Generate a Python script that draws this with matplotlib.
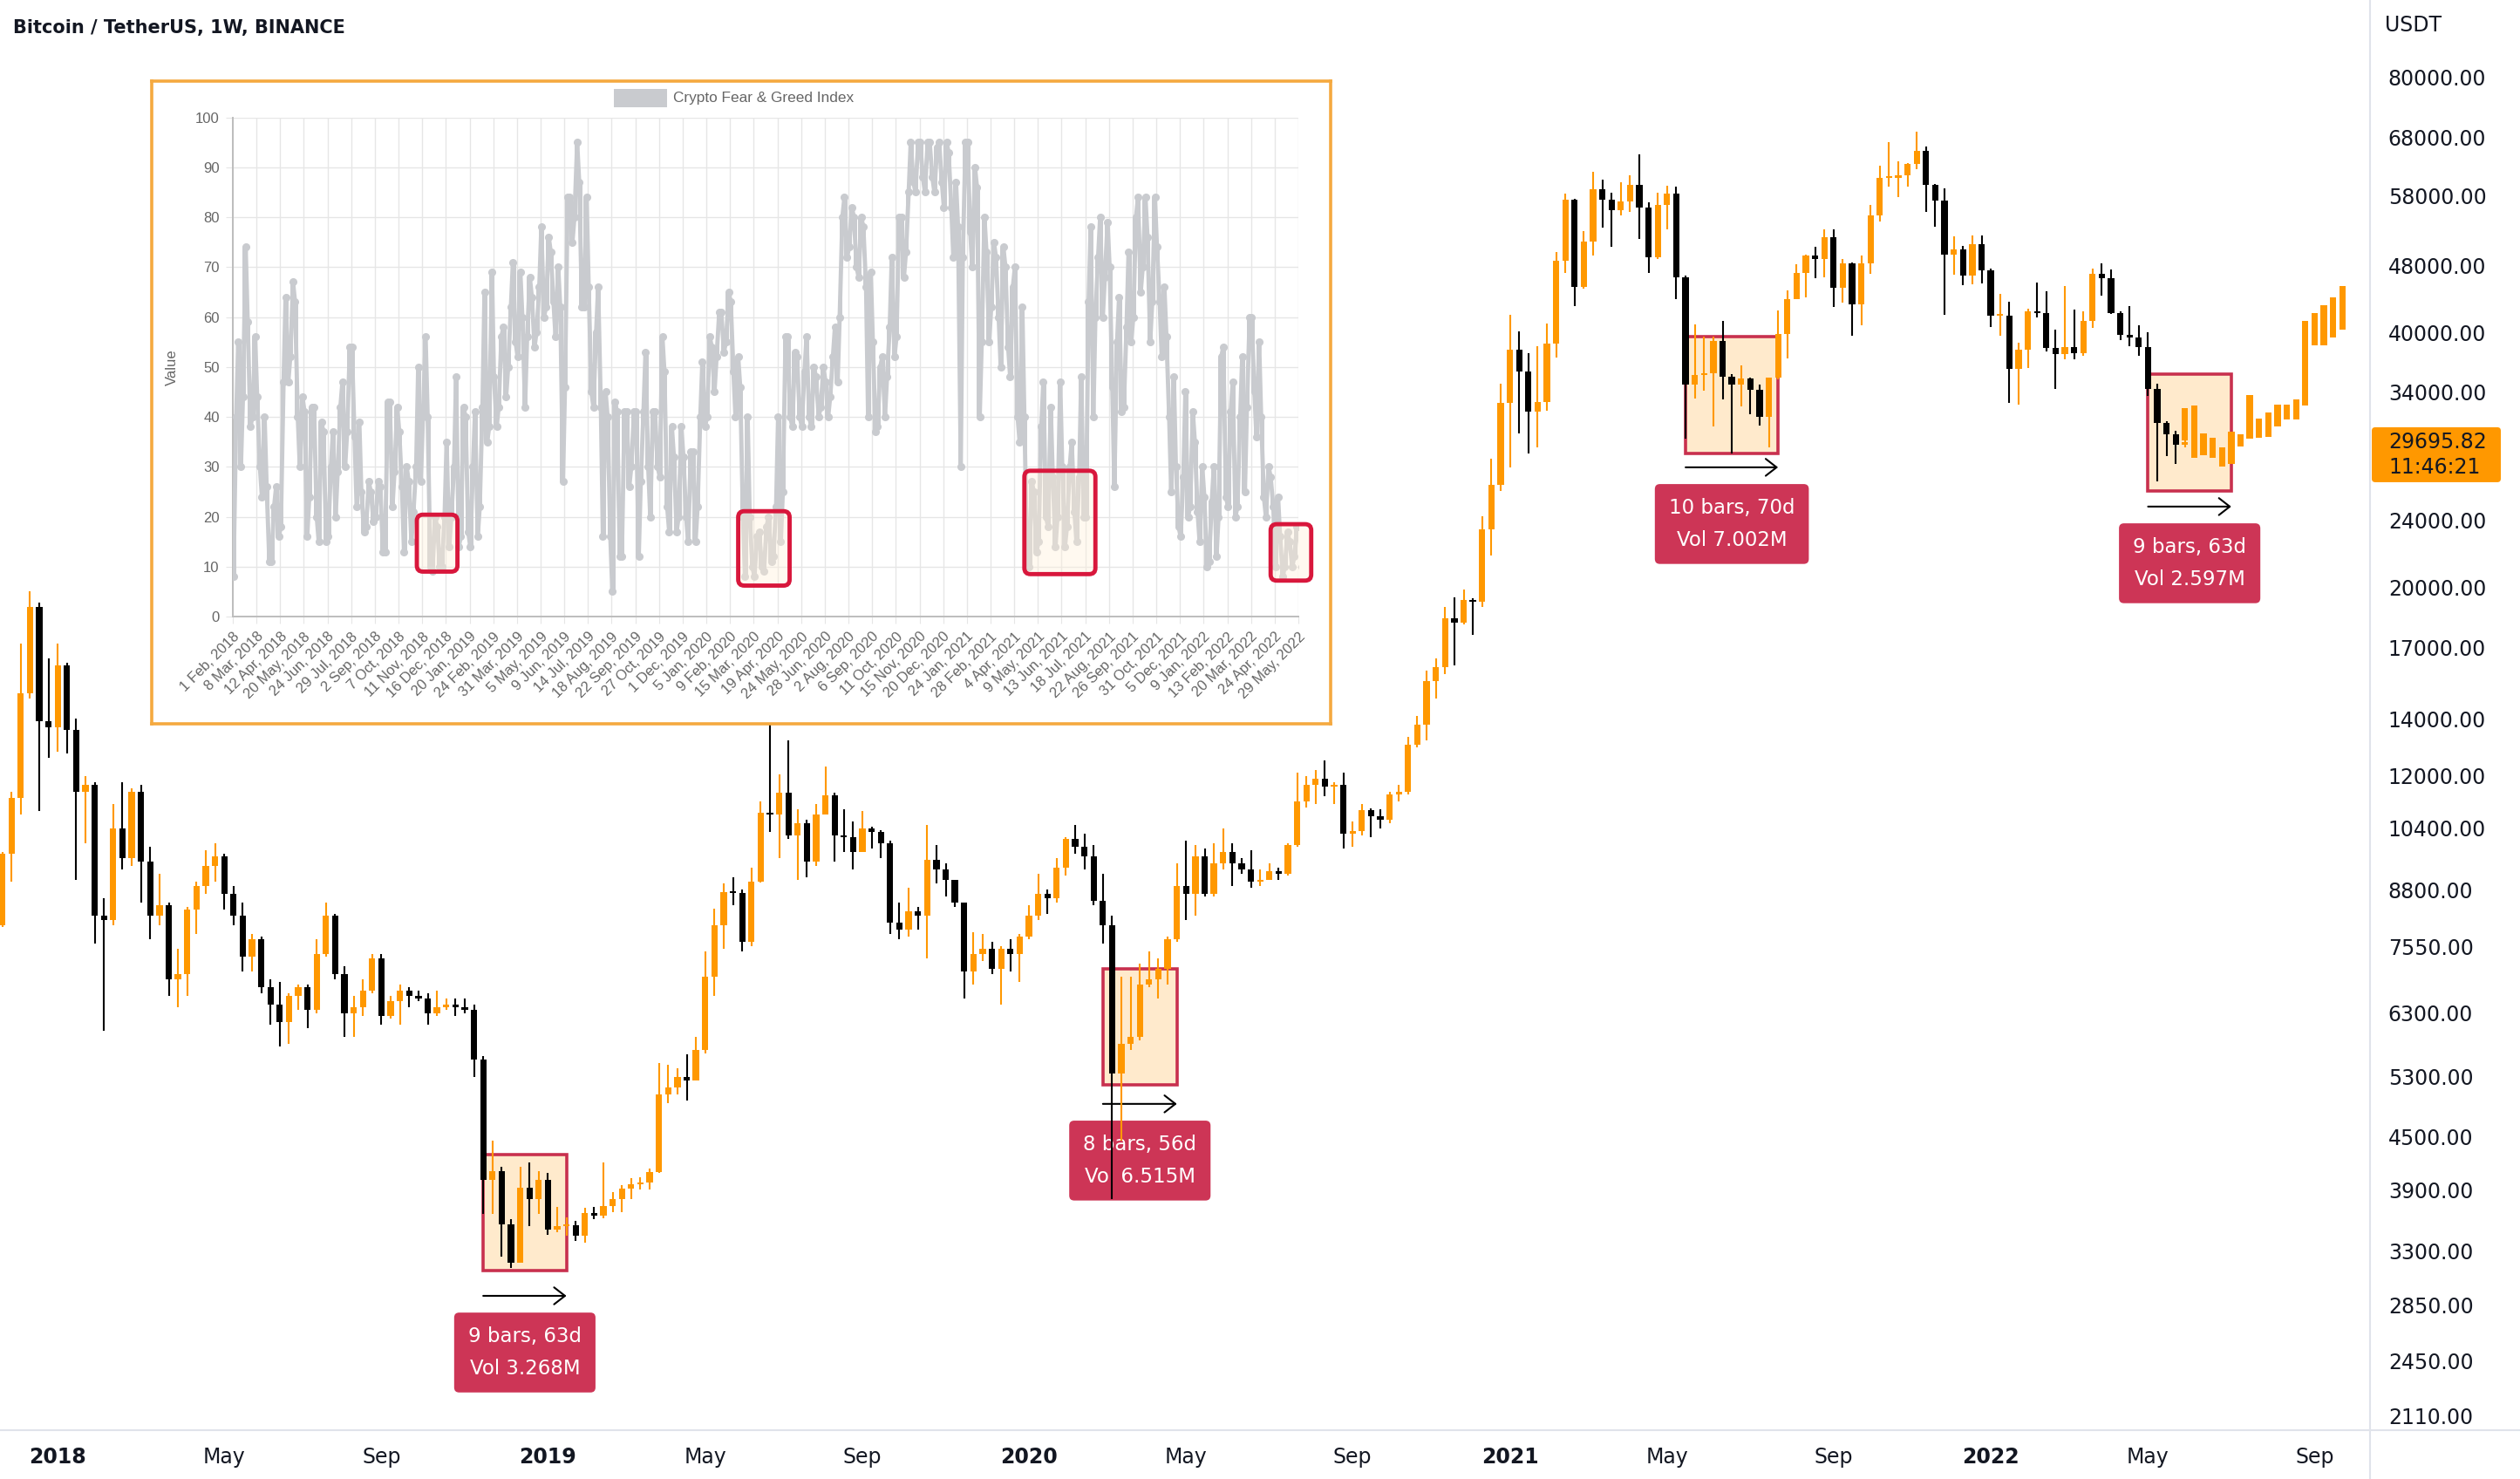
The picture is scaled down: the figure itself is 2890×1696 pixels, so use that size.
import matplotlib
matplotlib.use("Agg")
import matplotlib.pyplot as plt
import matplotlib.dates as mdates
import matplotlib.transforms as mtransforms
from matplotlib.patches import Rectangle, FancyBboxPatch
from matplotlib.lines import Line2D
from matplotlib.ticker import NullLocator
import numpy as np
import pandas as pd

W, H = 2890, 1696
DPI = 100

ORANGE = "#FF9800"
DOWN = "#000000"
TEXT = "#131722"
RANGE_RED = "#C8304E"
LABEL_RED = "#CD3556"
GREY = "#C9CBCF"

# ---- weekly BTCUSDT candles, Binance, weeks from 2017-11-20 (open = previous close)
first_open = 8000
week_high = [
    9750, 11500, 17200, 19800, 19200, 16500,                     # 2017 Nov-Dec
    17200, 16300, 14000, 12000, 11800,                           # 2018 Jan
    8600, 11100, 11800, 11600,                                   # Feb
    11700, 9900, 9200, 8500,                                     # Mar
    7500, 8400, 9000, 9800, 9990,                                # Apr
    9700, 8900, 8500, 7800,                                      # May
    7750, 6900, 6850, 6650,                                      # Jun
    6800, 6800, 7700, 8500, 8250,                                # Jul
    7150, 6600, 6900, 7400,                                      # Aug
    7400, 6600, 6800, 6750,                                      # Sep
    6700, 6650, 6700, 6550, 6550,                                # Oct
    6550, 6450, 5600, 4450,                                      # Nov
    4150, 3600, 4150, 4200, 4100,                                # Dec
    4080, 3720, 3620, 3580,                                      # 2019 Jan
    3710, 3720, 4200, 3870,                                      # Feb
    3950, 4020, 4030, 4130,                                      # Mar
    5500, 5470, 5420, 5630, 5900,                                # Apr
    7450, 8370, 8950, 9100,                                      # May
    8800, 9350, 11200, 13970,                                    # Jun
    12050, 13200, 10950, 10650, 11100,                           # Jul
    12300, 11450, 10950, 10600,                                  # Aug
    10900, 10450, 10350, 10050, 8500,                            # Sep
    8850, 8400, 10500, 9950,                                     # Oct
    9450, 9050, 8500, 7850,                                      # Nov
    7800, 7650, 7550, 7700, 7800,                                # Dec
    8450, 9200, 8800, 9600,                                      # 2020 Jan
    10150, 10500, 10250, 9950,                                   # Feb
    9200, 8200, 6950, 6950, 7200,                                # Mar
    7450, 7300, 7750, 9450,                                      # Apr
    10050, 9950, 9850, 10000,                                    # May
    10400, 10000, 9600, 9800, 9300,                              # Jun
    9450, 9350, 10000, 12100,                                    # Jul
    12000, 12200, 12500, 11800, 12100,                           # Aug
    10600, 11100, 10990, 10950,                                  # Sep
    11500, 11700, 13350, 14100,                                  # Oct
    15950, 16500, 19000, 19500, 19900,                           # Nov
    19450, 24300, 28400, 34800,                                  # Dec
    42000, 40100, 37850, 38500,                                  # 2021 Jan
    40950, 49700, 58350, 57500,                                  # Feb
    52650, 61800, 60600, 58400, 60200,                           # Mar
    61300, 64850, 57000, 58450,                                  # Apr
    59600, 59500, 46650, 40850, 39500,                           # May
    39500, 41300, 35750, 36600,                                  # Jun
    35400, 34700, 35400, 42450,                                  # Jul
    44800, 48150, 49400, 50500, 52900,                           # Aug
    52950, 48850, 48350, 49250,                                  # Sep
    56550, 62950, 67000, 63700,                                  # Oct
    63300, 69000, 66300, 59900, 59200,                           # Nov
    51950, 50600, 52100, 52100,                                  # Dec
    47550, 44450, 43500, 38900, 42650,                           # 2022 Jan
    45850, 44750, 40300, 45400,                                  # Feb
    42600, 42350, 47600, 48250,                                  # Mar
    47450, 42400, 42950, 40800,                                  # Apr
    40000, 34800, 31400, 30650, 29900,                           # May
]
week_low = [
    7950, 9000, 10800, 14800, 10900, 12600,
    12800, 12750, 9050, 10000, 7600,
    6000, 8000, 9300, 9400,
    8500, 7700, 8000, 6600,
    6400, 6600, 7800, 8700, 9000,
    8350, 8000, 7050, 7050,
    6650, 6100, 5750, 5800,
    6350, 6050, 6300, 7350, 6900,
    5900, 5900, 6250, 6650,
    6100, 6200, 6100, 6400,
    6500, 6100, 6250, 6350, 6250,
    6300, 5300, 3650, 3650,
    3250, 3150, 3200, 3530, 3650,
    3450, 3470, 3440, 3390,
    3380, 3600, 3610, 3670,
    3670, 3800, 3900, 3900,
    4080, 4930, 5050, 4970, 5250,
    5650, 6600, 7500, 8450,
    7450, 7550, 8980, 10300,
    9600, 10100, 9050, 9100, 9400,
    10800, 9500, 9750, 9300,
    9750, 9850, 9600, 7800, 7700,
    7750, 7900, 7300, 8950,
    8650, 8400, 6550, 6800,
    7250, 7000, 6450, 7050, 6850,
    7700, 8100, 8250, 8500,
    9150, 9700, 9300, 8450,
    7600, 3800, 4450, 5700, 5850,
    6750, 6550, 6800, 7650,
    8100, 8200, 8650, 8650,
    9300, 8900, 9200, 8850, 8900,
    9050, 9050, 9150, 9900,
    11000, 11100, 11350, 11100, 9850,
    9900, 10200, 10150, 10400,
    10550, 11200, 11400, 12950,
    13200, 14800, 15800, 16200, 18100,
    17600, 19000, 21800, 26000,
    27700, 30400, 28800, 29250,
    32300, 37400, 47000, 43000,
    45000, 49300, 53200, 50500, 55000,
    55500, 51500, 47000, 48800,
    52900, 43800, 30000, 33400, 34150,
    31000, 33350, 28800, 32700,
    32050, 31050, 29300, 35200,
    37300, 43800, 43950, 46350, 46500,
    42850, 43400, 39600, 40750,
    46950, 54100, 59500, 57800,
    59400, 62300, 55550, 53250, 42000,
    46800, 45450, 45550, 45650,
    40550, 39650, 33000, 32900, 36300,
    41700, 38000, 34300, 37150,
    37150, 37550, 40450, 44200,
    42100, 39200, 38550, 37550,
    33700, 26700, 28600, 28000, 29300,
]
week_close = [
    9700, 11300, 15000, 19000, 13900, 13700,
    16200, 13600, 11500, 11700, 8200,
    8100, 10400, 9600, 11500,
    9500, 8200, 8450, 6900,
    7000, 8350, 8900, 9400, 9650,
    8700, 8200, 7350, 7700,
    6750, 6450, 6150, 6600,
    6750, 6350, 7400, 8200, 7000,
    6300, 6400, 6700, 7300,
    6250, 6500, 6700, 6600,
    6550, 6300, 6400, 6450, 6400,
    6350, 5550, 4000, 4100,
    3550, 3200, 3920, 3800, 4000,
    3500, 3530, 3540, 3440,
    3660, 3630, 3730, 3800,
    3910, 3960, 3980, 4090,
    5050, 5150, 5300, 5250, 5700,
    6950, 8000, 8750, 8730,
    7650, 8990, 10850, 10800,
    11450, 10200, 10550, 9500, 10800,
    11380, 10200, 10150, 9750,
    10400, 10300, 10000, 8050, 7900,
    8300, 8200, 9550, 9300,
    9050, 8500, 7050, 7400,
    7500, 7100, 7500, 7400, 7750,
    8200, 8700, 8600, 9350,
    10100, 9900, 9650, 8550,
    8000, 5350, 5800, 5900, 6800,
    6900, 7100, 7700, 8900,
    8700, 9650, 8700, 9450,
    9750, 9450, 9300, 9000, 9050,
    9250, 9200, 9950, 11200,
    11700, 11900, 11650, 11700, 10250,
    10330, 10930, 10750, 10650,
    11400, 11500, 13050, 13800,
    15500, 16100, 18400, 18200, 19350,
    19250, 23450, 26450, 33000,
    38150, 36000, 32250, 33100,
    38800, 48550, 57400, 45250,
    51200, 59000, 57350, 55800, 57050,
    59750, 56200, 49000, 56600,
    58250, 46450, 34750, 35650, 35800,
    39100, 35500, 34700, 35300,
    34250, 31800, 35400, 39850,
    43800, 47050, 49250, 48800, 51750,
    45150, 48300, 43150, 48200,
    54950, 60850, 60850, 61300,
    63250, 65500, 59700, 57250, 49400,
    50100, 46700, 50800, 47300,
    41850, 41900, 36250, 38150, 42400,
    42200, 38350, 37700, 38400,
    37800, 41250, 46850, 46400,
    42150, 39700, 39450, 38450,
    34300, 31300, 30300, 29450, 29695.82,
]

# projected bars (bars pattern) from 2022-05-30
proj_low = [29830, 28460, 28660, 28460, 27790, 27990, 29340, 29980, 30050,
            30130, 30990, 31580, 31580, 32800, 38640, 38640, 39470, 40300]
proj_high = [32570, 32800, 30400, 30050, 29270, 30550, 30330, 33730, 31650,
             32180, 32880, 32880, 33340, 41270, 42170, 43060, 43990, 45360]

# date range measurements
range_start = ["2018-11-19", "2020-03-02", "2021-05-17", "2022-05-02"]
range_end = ["2019-01-21", "2020-04-27", "2021-07-26", "2022-07-04"]
range_top = [4290, 7100, 39540, 35720]
range_bottom = [3130, 5185, 28800, 26010]
range_text = ["9 bars, 63d\nVol 3.268M", "8 bars, 56d\nVol 6.515M",
              "10 bars, 70d\nVol 7.002M", "9 bars, 63d\nVol 2.597M"]
arrow_gap = [29, 22, 16, 18]

price_ticks = [80000, 68000, 58000, 48000, 40000, 34000, 24000, 20000, 17000,
               14000, 12000, 10400, 8800, 7550, 6300, 5300, 4500, 3900, 3300,
               2850, 2450, 2110]
time_ticks = ["2018-01-01", "2018-05-07", "2018-09-03", "2019-01-07", "2019-05-06",
              "2019-09-02", "2020-01-06", "2020-05-04", "2020-09-07", "2021-01-04",
              "2021-05-03", "2021-09-06", "2022-01-03", "2022-05-02", "2022-09-05"]
time_labels = ["2018", "May", "Sep", "2019", "May", "Sep", "2020", "May", "Sep",
               "2021", "May", "Sep", "2022", "May", "Sep"]

# ---- Crypto Fear & Greed Index (weekly low / high), from 1 Feb 2018
fg_low = [
    8, 30, 44, 38, 40, 30, 24, 11, 11, 16,
    18, 47, 52, 40, 30, 16, 24, 20, 15, 15,
    16, 20, 29, 30, 37, 36, 22, 17, 18, 19,
    20, 13, 13, 22, 29, 26, 13, 15, 21, 27,
    40, 10, 9, 10, 10, 14, 20, 14, 16, 17,
    14, 16, 22, 35, 38, 38, 42, 44, 50, 55,
    52, 42, 56, 54, 57, 60, 62, 63, 56, 27,
    46, 75, 80, 62, 62, 45, 42, 42, 16, 16,
    5, 12, 12, 26, 30, 12, 27, 30, 20, 30,
    28, 22, 17, 17, 20, 20, 15, 15, 22, 38,
    40, 45, 52, 53, 55, 49, 40, 20, 8, 10,
    8, 10, 9, 11, 12, 15, 25, 40, 38, 40,
    38, 40, 38, 40, 42, 40, 44, 47, 60, 72,
    74, 70, 68, 66, 40, 37, 38, 40, 48, 52,
    56, 68, 73, 87, 85, 88, 85, 88, 85, 87,
    82, 82, 72, 30, 72, 77, 70, 40, 55, 55,
    62, 60, 50, 54, 48, 40, 35, 11, 10, 13,
    15, 20, 18, 14, 20, 14, 18, 21, 15, 20,
    20, 40, 60, 60, 68, 46, 26, 41, 42, 55,
    60, 65, 70, 55, 63, 63, 52, 40, 25, 18,
    16, 20, 22, 21, 15, 10, 11, 12, 20, 24,
    22, 20, 22, 25, 42, 45, 36, 24, 20, 22,
    10, 8, 10, 10, 12, 10,
]
fg_high = [
    40, 55, 74, 59, 56, 44, 40, 26, 22, 26,
    47, 64, 67, 63, 44, 41, 42, 42, 39, 37,
    30, 37, 42, 47, 54, 54, 39, 25, 27, 25,
    27, 26, 43, 43, 42, 37, 30, 27, 30, 50,
    56, 40, 20, 18, 20, 35, 30, 48, 42, 40,
    30, 41, 42, 65, 69, 48, 56, 58, 62, 71,
    69, 60, 68, 64, 66, 78, 76, 73, 70, 62,
    84, 84, 95, 87, 84, 66, 57, 66, 45, 40,
    43, 41, 41, 41, 41, 41, 41, 53, 41, 41,
    56, 49, 38, 32, 38, 32, 33, 33, 40, 51,
    56, 54, 61, 61, 65, 63, 52, 46, 40, 20,
    16, 17, 18, 20, 22, 40, 56, 56, 53, 52,
    49, 56, 50, 48, 50, 47, 52, 58, 80, 84,
    82, 80, 80, 78, 69, 55, 50, 52, 58, 72,
    80, 80, 85, 95, 95, 95, 95, 95, 94, 95,
    95, 93, 87, 78, 95, 95, 90, 86, 80, 73,
    75, 72, 74, 70, 66, 70, 62, 40, 27, 25,
    38, 47, 42, 28, 47, 30, 30, 35, 28, 48,
    63, 78, 72, 80, 79, 70, 55, 64, 58, 73,
    80, 84, 84, 76, 84, 74, 66, 56, 48, 30,
    28, 45, 41, 35, 30, 24, 23, 30, 52, 54,
    41, 47, 40, 52, 60, 60, 55, 40, 30, 28,
    24, 16, 17, 15, 18, 18,
]
fg_labels = ["1 Feb, 2018", "8 Mar, 2018", "12 Apr, 2018", "20 May, 2018",
             "24 Jun, 2018", "29 Jul, 2018", "2 Sep, 2018", "7 Oct, 2018",
             "11 Nov, 2018", "16 Dec, 2018", "20 Jan, 2019", "24 Feb, 2019",
             "31 Mar, 2019", "5 May, 2019", "9 Jun, 2019", "14 Jul, 2019",
             "18 Aug, 2019", "22 Sep, 2019", "27 Oct, 2019", "1 Dec, 2019",
             "5 Jan, 2020", "9 Feb, 2020", "15 Mar, 2020", "19 Apr, 2020",
             "24 May, 2020", "28 Jun, 2020", "2 Aug, 2020", "6 Sep, 2020",
             "11 Oct, 2020", "15 Nov, 2020", "20 Dec, 2020", "24 Jan, 2021",
             "28 Feb, 2021", "4 Apr, 2021", "9 May, 2021", "13 Jun, 2021",
             "18 Jul, 2021", "22 Aug, 2021", "26 Sep, 2021", "31 Oct, 2021",
             "5 Dec, 2021", "9 Jan, 2022", "13 Feb, 2022", "20 Mar, 2022",
             "24 Apr, 2022", "29 May, 2022"]
# highlighted zones in the index chart (index days, value)
fg_box_x0 = [272, 747, 1170, 1534]
fg_box_x1 = [332, 823, 1275, 1594]
fg_box_lo = [9.0, 6.2, 8.5, 7.2]
fg_box_hi = [20.4, 21.1, 29.2, 18.5]


def fx(px):
    return px / W


def fy(py):
    return 1 - py / H


plt.rcParams["font.family"] = "DejaVu Sans"
fig = plt.figure(figsize=(W / DPI, H / DPI), dpi=DPI)
fig.patch.set_facecolor("white")

# ---------------- main candlestick chart
ax = fig.add_axes([0, fy(1640), fx(2718), 1640 / H])
ax.set_yscale("log")

weeks = pd.date_range("2017-11-20", periods=len(week_close), freq="7D")
x = mdates.date2num(weeks)
c = np.array(week_close, dtype=float)
o = np.concatenate([[first_open], c[:-1]])
hi = np.array(week_high, dtype=float)
lo = np.array(week_low, dtype=float)
cols = np.where(c >= o, ORANGE, DOWN)
body = np.maximum(np.abs(c - o), c * 0.004)
ax.vlines(x, lo, hi, colors=cols, lw=1.5, zorder=3)
ax.bar(x, body, bottom=np.minimum(o, c), width=4.8, color=cols, lw=0, zorder=4)

px = mdates.date2num(pd.date_range("2022-05-30", periods=len(proj_low), freq="7D"))
pl = np.array(proj_low, dtype=float)
ph = np.array(proj_high, dtype=float)
ax.bar(px, ph - pl, bottom=pl, width=4.8, color=ORANGE, lw=0, zorder=4)

for s, e, top, bot, txt, gap in zip(range_start, range_end, range_top,
                                     range_bottom, range_text, arrow_gap):
    x0 = mdates.date2num(pd.Timestamp(s))
    x1 = mdates.date2num(pd.Timestamp(e))
    ax.add_patch(Rectangle((x0, bot), x1 - x0, top - bot, facecolor=(1, 0.6, 0, 0.2),
                           edgecolor=RANGE_RED, lw=2.6, zorder=2))
    tr = mtransforms.offset_copy(ax.transData, fig=fig, y=-gap, units="dots")
    ax.annotate("", xy=(x1, bot), xytext=(x0, bot), xycoords=tr, textcoords=tr,
                arrowprops=dict(arrowstyle="->,head_length=0.45,head_width=0.35",
                                color="black", lw=1.5, shrinkA=0, shrinkB=0,
                                mutation_scale=20), zorder=2)
    ax.annotate(txt, xy=((x0 + x1) / 2, bot), xycoords="data",
                xytext=(0, -(gap + 65)), textcoords="offset pixels",
                ha="center", va="center", color="white", fontsize=16.5,
                linespacing=1.75, zorder=2.5,
                bbox=dict(boxstyle="round,pad=0.7,rounding_size=0.25",
                          fc=LABEL_RED, ec="none"))

base = mdates.date2num(pd.Timestamp("2018-01-01"))
ax.set_xlim(base - 43.7, base + 1750.0)
ax.set_ylim(2029, 98656)

ax.yaxis.tick_right()
ax.set_yticks(price_ticks)
ax.set_yticklabels([f"{v:.2f}" for v in price_ticks])
ax.yaxis.set_minor_locator(NullLocator())
ax.tick_params(axis="y", length=0, pad=15, labelsize=17, labelcolor=TEXT)

ax.set_xticks(mdates.date2num(pd.to_datetime(time_ticks)))
ax.set_xticklabels(time_labels)
ax.xaxis.set_minor_locator(NullLocator())
ax.tick_params(axis="x", length=0, pad=14, labelsize=17, labelcolor=TEXT)
for lab in ax.get_xticklabels():
    if lab.get_text().isdigit():
        lab.set_fontweight("bold")
for sp in ax.spines.values():
    sp.set_visible(False)

fig.add_artist(Line2D([fx(2718)] * 2, [0, 1], transform=fig.transFigure,
                      color="#E0E3EB", lw=1.5))
fig.add_artist(Line2D([0, 1], [fy(1640)] * 2, transform=fig.transFigure,
                      color="#E0E3EB", lw=1.5))

fig.text(fx(15), fy(32), "Bitcoin / TetherUS, 1W, BINANCE", fontsize=15,
         fontweight="bold", color=TEXT, va="center", ha="left")
fig.text(fx(2735), fy(29), "USDT", fontsize=17, color=TEXT, va="center", ha="left")

# last price tag
ident = mtransforms.IdentityTransform()
y_px = ax.transData.transform((x[-1], c[-1]))[1]
fig.add_artist(FancyBboxPatch((2720, y_px - 46), 148, 63,
                              boxstyle="round,pad=0,rounding_size=4",
                              transform=ident, fc=ORANGE, ec="none", zorder=5))
fig.text(2739, y_px, f"{c[-1]:.2f}", transform=ident, fontsize=17, color=TEXT,
         va="center", ha="left", zorder=6)
fig.text(2739, y_px - 29, "11:46:21", transform=ident, fontsize=17, color=TEXT,
         va="center", ha="left", zorder=6)

# ---------------- inset: Crypto Fear & Greed Index screenshot
frame = fig.add_axes([fx(174), fy(830), (1526 - 174) / W, (830 - 93) / H], zorder=5)
frame.set_facecolor("white")
frame.set_xticks([])
frame.set_yticks([])
for sp in frame.spines.values():
    sp.set_color("#F5A93F")
    sp.set_linewidth(2.6)

ins = fig.add_axes([fx(267), fy(707), 1222 / W, (707 - 134.5) / H], zorder=6)
ins.set_facecolor("none")
fg_lo = np.array(fg_low, dtype=float)
fg_hi = np.array(fg_high, dtype=float)
wk = np.arange(len(fg_low))
ins.bar(7 * wk + 3, fg_hi - fg_lo, bottom=fg_lo, width=4.5, color=GREY, lw=0, zorder=2)
fg_x, fg_y = [], []
for w, (a, b) in enumerate(zip(fg_low, fg_high)):
    fg_x += [7 * w + 1, 7 * w + 5]
    fg_y += [a, b] if w % 2 == 0 else [b, a]
ins.plot(fg_x, fg_y, color=GREY, lw=3.5, marker="o", ms=5.5, mfc=GREY, mec=GREY,
         zorder=3)

for a0, a1, b0, b1 in zip(fg_box_x0, fg_box_x1, fg_box_lo, fg_box_hi):
    ins.add_patch(FancyBboxPatch((a0, b0), a1 - a0, b1 - b0,
                                 boxstyle="round,pad=0,rounding_size=9",
                                 mutation_aspect=0.1355, fc=(1, 0.94, 0.86, 0.4),
                                 ec="#D8173C", lw=3.5, zorder=4, clip_on=False))

ins.set_xlim(0, 1575)
ins.set_ylim(0, 100)
ins.set_xticks(np.arange(len(fg_labels)) * 35)
ins.set_xticklabels(fg_labels, rotation=45, ha="right", rotation_mode="anchor")
ins.set_yticks(range(0, 101, 10))
ins.tick_params(length=6, color="#E6E6E6", labelsize=12, labelcolor="#666666", pad=5)
for lab in ins.get_xticklabels() + ins.get_yticklabels():
    lab.set_fontfamily("Liberation Sans")
ins.grid(True, color="#E6E6E6", lw=1.0)
ins.set_axisbelow(True)
for side in ["top", "right"]:
    ins.spines[side].set_visible(False)
for side in ["left", "bottom"]:
    ins.spines[side].set_color("#BDBDBD")
    ins.spines[side].set_linewidth(1.4)
ins.text(-(267 - 197) / 1222, 0.5, "Value", transform=ins.transAxes, rotation=90,
         ha="center", va="center", fontsize=12, color="#666666",
         family="Liberation Sans")
ins.add_patch(Rectangle((fx(704), fy(123)), 61 / W, 20.5 / H, transform=fig.transFigure,
                        fc=GREY, ec="none", clip_on=False))
ins.text(fx(772), fy(113), "Crypto Fear & Greed Index", transform=fig.transFigure,
         fontsize=12.4, color="#666666", va="center", ha="left",
         family="Liberation Sans", clip_on=False)

fig.savefig("out.png", dpi=DPI, facecolor="white")
